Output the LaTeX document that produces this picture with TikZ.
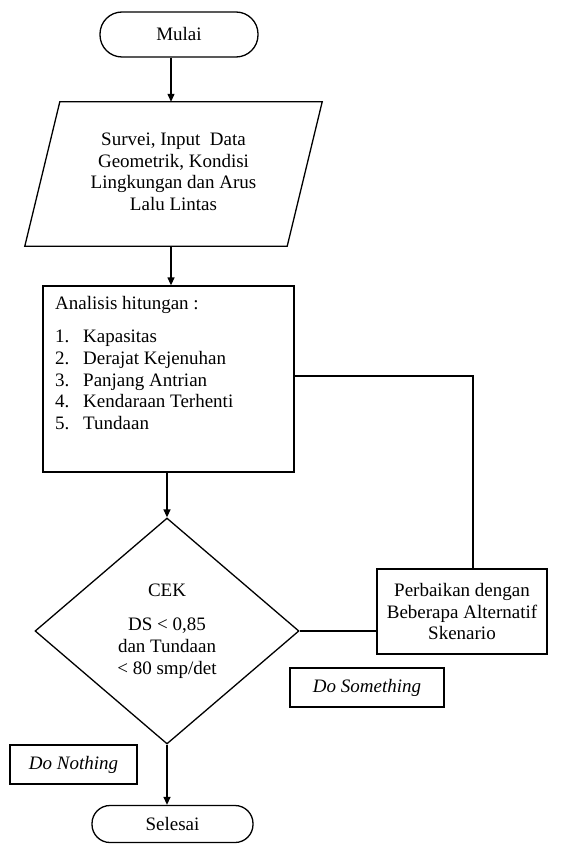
\documentclass[tikz,border=0pt]{standalone}
\usepackage{fontspec}
\setmainfont{Liberation Serif}
\newfontfamily\tnr{Liberation Serif}
\usetikzlibrary{shapes.geometric,arrows.meta}
\begin{document}
\begin{tikzpicture}[x=1pt,y=-1pt,
  font=\tnr\fontsize{19}{21.6}\selectfont,
  line/.style={draw, line width=1.3pt},
  arr/.style={line, -{Triangle[length=8pt,width=7pt]}},
  term/.style={draw, line width=1.3pt, inner sep=0pt},
  procbox/.style={draw, line width=1.3pt, inner sep=0pt},
]
\fill[white] (0,0) rectangle (560,845);
\useasboundingbox (0,0) rectangle (560,845);

\coordinate (axis) at (171,0);

% start
\node[term, rounded corners=22pt, minimum width=158pt, minimum height=45pt] (mulai) at (179,34.5) {Mulai};

% input parallelogram
\node[inner sep=0pt, minimum width=297pt, minimum height=144pt, align=center] (para) at (173.5,172) {Survei, Input~ Data\\Geometrik, Kondisi\\Lingkungan dan Arus\\Lalu Lintas};
\draw[line] ([xshift=35pt,yshift=-2pt]para.north west) -- ([yshift=-2pt]para.north east) -- ([xshift=-35pt,yshift=-2pt]para.south east) -- ([yshift=-2pt]para.south west) -- cycle;

% analysis box
\node[procbox, minimum width=251pt, minimum height=186pt] (anal) at (168.5,379) {};
\node[anchor=north west, align=left, inner sep=0pt] (analtext) at (55,296) {Analisis hitungan :\\[12pt]\makebox[28pt][l]{1.}Kapasitas\\\makebox[28pt][l]{2.}Derajat Kejenuhan\\\makebox[28pt][l]{3.}Panjang Antrian\\\makebox[28pt][l]{4.}Kendaraan Terhenti\\\makebox[28pt][l]{5.}Tundaan};

% decision
\node[diamond, draw, line width=1.3pt, minimum width=264pt, minimum height=226pt, inner sep=0pt, align=center] (dia) at (167,631) {CEK\\[13pt]DS < 0,85\\dan Tundaan\\< 80 smp/det};

% improvement box
\node[procbox, minimum width=170pt, minimum height=85pt, align=center] (perb) at (462,611.5) {Perbaikan dengan\\Beberapa Alternatif\\Skenario};

% labels
\node[procbox, minimum width=154pt, minimum height=39pt] (ds) at (367,687.5) {\itshape Do Something};
\node[procbox, minimum width=127pt, minimum height=39pt] (dn) at (73.5,764.5) {\itshape Do Nothing};

% end
\node[term, rounded corners=18pt, minimum width=161pt, minimum height=37pt] (sel) at (172.5,824) {Selesai};

% connectors
\draw[arr] (mulai.south -| axis) -- ([yshift=-2pt]para.north -| axis);
\draw[arr] ([yshift=-2pt]para.south -| axis) -- (anal.north -| axis);
\draw[arr] (anal.south -| dia.north) -- (dia.north);
\draw[arr] (dia.south) -- (sel.north -| dia.south);
\draw[line] (dia.east) -- (perb.west |- dia.east);
\draw[line] ([yshift=3pt]anal.east) -| ([xshift=11pt]perb.north);
\end{tikzpicture}
\end{document}
